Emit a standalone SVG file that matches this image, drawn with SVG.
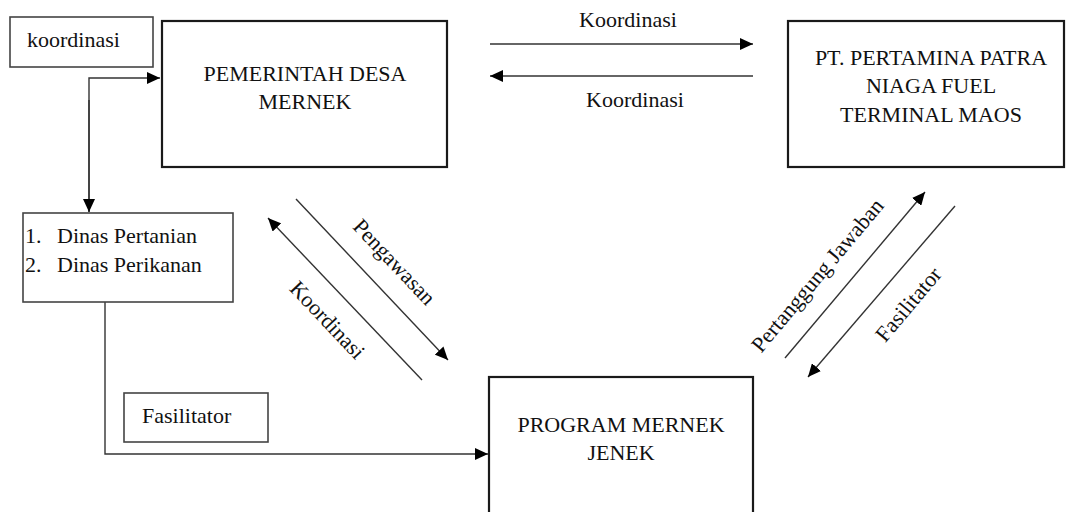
<svg xmlns="http://www.w3.org/2000/svg" width="1067" height="512" viewBox="0 0 1067 512">
<defs>
<style>
.c{text-anchor:middle}
.big{fill:#fff;stroke:#1a1a1a;stroke-width:2.2}
.small{fill:#fff;stroke:#444;stroke-width:1.6}
.ln{fill:none;stroke:#333;stroke-width:1.4}
</style>
<marker id="ah" markerUnits="userSpaceOnUse" markerWidth="14" markerHeight="12" refX="13" refY="6" orient="auto">
<path d="M0,0 L13,6 L0,12 z" fill="#000"/>
</marker>
</defs>
<rect width="1067" height="512" fill="#fff"/>

<g font-family="Liberation Serif, Times New Roman, serif" font-size="22" fill="#111">
<g id="connectors">
<polyline class="ln" points="89,212 89,78 160,78" marker-end="url(#ah)"/>
<line class="ln" x1="89" y1="100" x2="89" y2="212" marker-end="url(#ah)"/>
<line class="ln" x1="490" y1="44" x2="753" y2="44" marker-end="url(#ah)"/>
<line class="ln" x1="753" y1="76" x2="490" y2="76" marker-end="url(#ah)"/>
<line class="ln" x1="296" y1="199" x2="448" y2="360" marker-end="url(#ah)"/>
<line class="ln" x1="422" y1="380" x2="268" y2="218" marker-end="url(#ah)"/>
<line class="ln" x1="785" y1="358" x2="925" y2="192" marker-end="url(#ah)"/>
<line class="ln" x1="955" y1="206" x2="808" y2="377" marker-end="url(#ah)"/>
<polyline class="ln" points="105,302 105,454 488,454" marker-end="url(#ah)"/>
<text class="c" x="628" y="27">Koordinasi</text>
<text class="c" x="635" y="107">Koordinasi</text>
<text class="c" transform="translate(389,267) rotate(46.6)">Pengawasan</text>
<text class="c" transform="translate(322,325) rotate(46.6)">Koordinasi</text>
<text class="c" transform="translate(823,280) rotate(-50)">Pertanggung Jawaban</text>
<text class="c" transform="translate(914,309) rotate(-50)">Fasilitator</text>
</g>

<g id="label-koordinasi">
<rect class="small" x="10" y="17" width="143" height="50"/>
<text x="27" y="47">koordinasi</text>
</g>

<g id="pemerintah">
<rect class="big" x="162" y="21" width="285" height="146"/>
<text class="c" x="305" y="81">PEMERINTAH DESA</text>
<text class="c" x="305" y="109">MERNEK</text>
</g>

<g id="pertamina">
<rect class="big" x="788" y="21" width="276" height="146"/>
<text class="c" x="931" y="65">PT. PERTAMINA PATRA</text>
<text class="c" x="931" y="93">NIAGA FUEL</text>
<text class="c" x="931" y="122">TERMINAL MAOS</text>
</g>

<g id="dinas">
<rect class="small" x="23" y="213" width="210" height="89"/>
<text x="25" y="243">1.</text>
<text x="57" y="243">Dinas Pertanian</text>
<text x="25" y="272">2.</text>
<text x="57" y="272">Dinas Perikanan</text>
</g>

<g id="label-fasilitator">
<rect class="small" x="124" y="393" width="144" height="49"/>
<text x="142" y="423">Fasilitator</text>
</g>

<g id="program">
<rect class="big" x="489" y="377" width="264" height="140"/>
<text class="c" x="621" y="432">PROGRAM MERNEK</text>
<text class="c" x="621" y="460">JENEK</text>
</g>
</g>
</svg>
